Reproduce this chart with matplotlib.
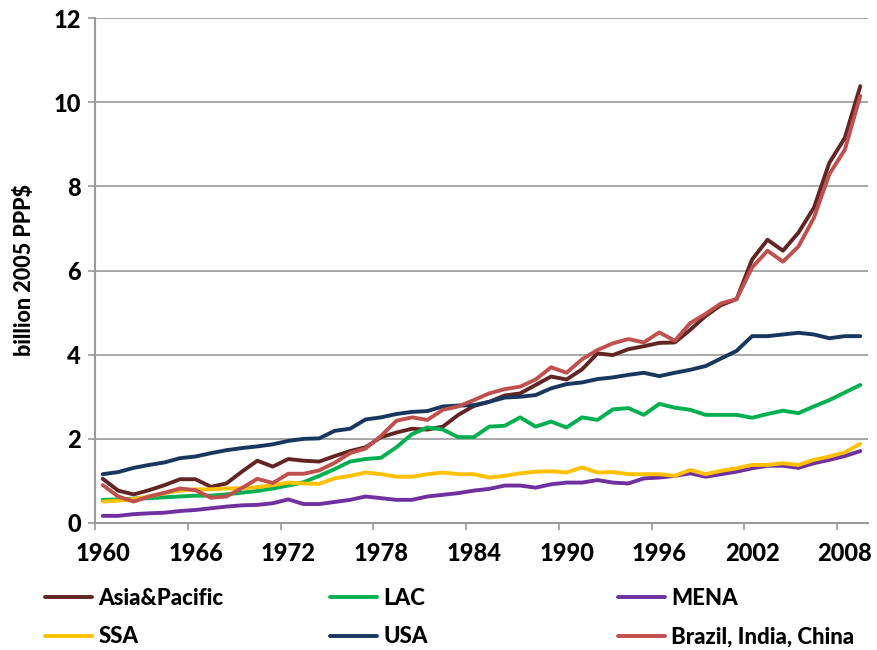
import matplotlib
matplotlib.use('Agg')
import matplotlib.pyplot as plt
import numpy as np

plt.rcParams['font.family'] = ['Lato', 'DejaVu Sans']
plt.rcParams['font.weight'] = 'bold'

years = np.arange(1960, 2010)

asia_pacific = [1.05, 0.77, 0.68, 0.78, 0.90, 1.04, 1.04, 0.86, 0.94, 1.22,
                1.48, 1.34, 1.52, 1.48, 1.46, 1.59, 1.71, 1.80, 2.04, 2.15,
                2.24, 2.22, 2.29, 2.57, 2.78, 2.88, 3.03, 3.08, 3.28, 3.48,
                3.41, 3.65, 4.03, 3.99, 4.13, 4.20, 4.28, 4.29, 4.59, 4.92,
                5.18, 5.32, 6.26, 6.73, 6.47, 6.90, 7.49, 8.56, 9.15, 10.38]
lac = [0.55, 0.56, 0.58, 0.59, 0.61, 0.63, 0.65, 0.65, 0.68, 0.72,
       0.76, 0.82, 0.89, 0.97, 1.12, 1.28, 1.46, 1.52, 1.55, 1.80,
       2.11, 2.27, 2.22, 2.04, 2.04, 2.29, 2.31, 2.51, 2.29, 2.41,
       2.27, 2.51, 2.45, 2.70, 2.73, 2.57, 2.83, 2.74, 2.69, 2.57,
       2.57, 2.57, 2.50, 2.59, 2.67, 2.61, 2.77, 2.92, 3.10, 3.28]
mena = [0.17, 0.17, 0.21, 0.23, 0.245, 0.285, 0.31, 0.35, 0.39, 0.42,
        0.43, 0.47, 0.56, 0.45, 0.45, 0.50, 0.55, 0.63, 0.59, 0.55,
        0.55, 0.63, 0.67, 0.71, 0.77, 0.81, 0.89, 0.89, 0.84, 0.92,
        0.96, 0.96, 1.02, 0.96, 0.94, 1.06, 1.08, 1.12, 1.18, 1.10,
        1.16, 1.22, 1.30, 1.36, 1.36, 1.31, 1.42, 1.50, 1.59, 1.71]
ssa = [0.51, 0.53, 0.57, 0.63, 0.71, 0.77, 0.80, 0.80, 0.82, 0.83,
       0.85, 0.90, 0.96, 0.94, 0.93, 1.06, 1.12, 1.20, 1.16, 1.10,
       1.10, 1.16, 1.20, 1.16, 1.16, 1.08, 1.12, 1.18, 1.22, 1.23,
       1.20, 1.32, 1.20, 1.21, 1.16, 1.16, 1.16, 1.12, 1.26, 1.16,
       1.24, 1.30, 1.38, 1.38, 1.42, 1.38, 1.50, 1.58, 1.68, 1.88]
usa = [1.16, 1.21, 1.31, 1.38, 1.44, 1.54, 1.58, 1.66, 1.73, 1.78,
       1.82, 1.87, 1.95, 2.00, 2.01, 2.19, 2.24, 2.46, 2.51, 2.59,
       2.64, 2.66, 2.77, 2.79, 2.80, 2.88, 2.98, 3.00, 3.04, 3.20,
       3.30, 3.34, 3.42, 3.46, 3.52, 3.57, 3.49, 3.57, 3.64, 3.73,
       3.91, 4.09, 4.44, 4.44, 4.48, 4.52, 4.48, 4.39, 4.44, 4.44]
bic = [0.90, 0.63, 0.51, 0.63, 0.72, 0.82, 0.78, 0.60, 0.63, 0.83,
       1.05, 0.95, 1.17, 1.17, 1.25, 1.43, 1.66, 1.77, 2.07, 2.43,
       2.51, 2.45, 2.69, 2.77, 2.92, 3.08, 3.18, 3.24, 3.41, 3.70,
       3.57, 3.89, 4.11, 4.27, 4.37, 4.29, 4.53, 4.33, 4.75, 4.97,
       5.22, 5.32, 6.07, 6.47, 6.21, 6.57, 7.25, 8.29, 8.87, 10.15]

series_names = ['Asia&Pacific', 'LAC', 'MENA', 'SSA', 'USA', 'Brazil, India, China']
series_values = [asia_pacific, lac, mena, ssa, usa, bic]
series_colors = ['#632523', '#00B050', '#7030A0', '#FFC000', '#17375E', '#C0504D']

year_labels = [str(y) for y in range(1960, 2010, 6)]
y_ticks = [0, 2, 4, 6, 8, 10, 12]

grid_color = '#9a9a9a'

fig = plt.figure(figsize=(8.77, 6.5), dpi=100)
ax = fig.add_axes([95 / 877, 1 - 523 / 650, 773 / 877, 505 / 650])

handles = []
for name, vals, color in zip(series_names, series_values, series_colors):
    ln, = ax.plot(years, vals, color=color, lw=2.8, label=name,
                  solid_joinstyle='round', solid_capstyle='round')
    handles.append(ln)

ax.set_xlim(1959.5, 2009.5)
ax.set_ylim(0, 12)
ax.set_yticks(y_ticks)
ax.set_yticklabels([str(v) for v in y_ticks], fontweight='black')
ax.grid(axis='y', color=grid_color, lw=1.2)
ax.set_axisbelow(True)

# category ticks sit between years, labels sit on the year
ax.set_xticks(np.arange(1959.5, 2009, 6))
ax.set_xticklabels([])
ax.set_xticks([int(s) for s in year_labels], minor=True)
ax.set_xticklabels(year_labels, minor=True, fontweight='black')
ax.tick_params(axis='x', which='major', length=5, width=1.2, color=grid_color)
ax.tick_params(axis='x', which='minor', length=0, pad=14, labelsize=17)
ax.tick_params(axis='y', length=5, width=1.2, color=grid_color, pad=5, labelsize=17)

for side in ['top', 'right']:
    ax.spines[side].set_visible(False)
for side in ['left', 'bottom']:
    ax.spines[side].set_color(grid_color)
    ax.spines[side].set_linewidth(1.5)

ax.set_ylabel('billion 2005 PPP$', fontsize=15.5, fontweight='black')
ax.yaxis.set_label_coords(-0.078, 0.50)

# legend: three columns, two rows
legend_cols = [[0, 3], [1, 4], [2, 5]]
legend_x = [45 / 877, 330 / 877, 618 / 877]
for col, lx in zip(legend_cols, legend_x):
    fig.legend(handles=[handles[i] for i in col],
               labels=[series_names[i] for i in col],
               loc='center left', bbox_to_anchor=(lx, 1 - 617.5 / 650),
               frameon=False, borderpad=0, borderaxespad=0,
               handlelength=2.1, handletextpad=0.3, labelspacing=0.8,
               prop={'size': 16, 'weight': 'black'})

fig.savefig('out.png', dpi=100)
